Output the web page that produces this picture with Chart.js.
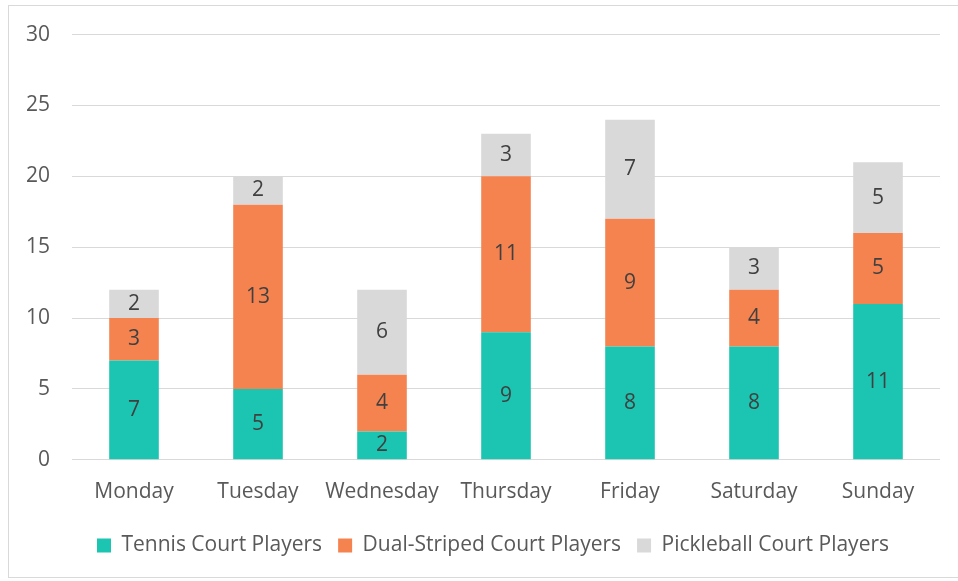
<!DOCTYPE html>
<html lang="en">
<head>
    <meta charset="UTF-8">
    <title>Court Players by Day</title>
    <script src="https://cdn.jsdelivr.net/npm/chart.js"></script>
    <style>
        body {
            margin: 0;
            padding: 0;
            background: #fff;
        }
        #frame {
            position: absolute;
            left: 8px;
            top: 5px;
            width: 960px;
            height: 573px;
            border: 1px solid #d9d9d9;
            box-sizing: border-box;
        }
        #chartContainer {
            position: absolute;
            left: 0;
            top: 0;
            width: 958px;
            height: 581px;
        }
    </style>
</head>
<body>
    <div id="frame"></div>
    <div id="chartContainer">
        <canvas id="myChart" width="958" height="581"></canvas>
    </div>

    <script>
        const days = ['Monday', 'Tuesday', 'Wednesday', 'Thursday', 'Friday', 'Saturday', 'Sunday'];
        const tennis = [7, 5, 2, 9, 8, 8, 11];
        const dualStriped = [3, 13, 4, 11, 9, 4, 5];
        const pickleball = [2, 2, 6, 3, 7, 3, 5];
        const yTicks = [0, 5, 10, 15, 20, 25, 30];

        const fontFamily = '"Open Sans", sans-serif';
        const textColor = '#595959';

        // draw the value in the middle of each bar segment
        const barLabels = {
            id: 'barLabels',
            afterDatasetsDraw(chart) {
                const ctx = chart.ctx;
                ctx.save();
                ctx.font = '21px ' + fontFamily;
                ctx.fillStyle = '#404040';
                ctx.textAlign = 'center';
                ctx.textBaseline = 'middle';
                chart.data.datasets.forEach((ds, i) => {
                    const meta = chart.getDatasetMeta(i);
                    meta.data.forEach((bar, j) => {
                        ctx.fillText(ds.data[j], bar.x, (bar.y + bar.base) / 2);
                    });
                });
                ctx.restore();
            }
        };

        // legend sits a bit right of the canvas centre, like the original
        const legendShift = {
            id: 'legendShift',
            afterLayout(chart) {
                chart.legend.left += 23;
                chart.legend.right += 23;
                chart.legend.top += 2;
                chart.legend.bottom += 2;
            }
        };

        const ctx = document.getElementById('myChart').getContext('2d');
        const myChart = new Chart(ctx, {
            type: 'bar',
            data: {
                labels: days,
                datasets: [
                    {
                        label: 'Tennis Court Players',
                        data: tennis,
                        backgroundColor: '#1bc5b1'
                    },
                    {
                        label: 'Dual-Striped Court Players',
                        data: dualStriped,
                        backgroundColor: '#f5834f'
                    },
                    {
                        label: 'Pickleball Court Players',
                        data: pickleball,
                        backgroundColor: '#d9d9d9'
                    }
                ]
            },
            options: {
                responsive: false,
                animation: false,
                layout: {
                    padding: { left: 0, right: 18, top: 29, bottom: 17 }
                },
                datasets: {
                    bar: {
                        categoryPercentage: 1,
                        barPercentage: 0.4
                    }
                },
                plugins: {
                    tooltip: { enabled: false },
                    legend: {
                        position: 'bottom',
                        labels: {
                            boxWidth: 14,
                            boxHeight: 14,
                            padding: 16,
                            color: textColor,
                            font: { family: fontFamily, size: 21 }
                        }
                    }
                },
                scales: {
                    x: {
                        stacked: true,
                        grid: { display: false },
                        border: { display: false },
                        ticks: {
                            color: textColor,
                            padding: 12,
                            font: { family: fontFamily, size: 21 }
                        }
                    },
                    y: {
                        stacked: true,
                        min: 0,
                        max: 30,
                        afterBuildTicks(scale) {
                            scale.ticks = yTicks.map(v => ({ value: v }));
                        },
                        afterFit(scale) {
                            scale.width = 72;
                        },
                        grid: {
                            color: '#d9d9d9',
                            lineWidth: 1,
                            drawTicks: false
                        },
                        border: { display: false },
                        ticks: {
                            color: textColor,
                            padding: 22,
                            font: { family: fontFamily, size: 21 }
                        }
                    }
                }
            },
            plugins: [barLabels, legendShift]
        });
    </script>
</body>
</html>
